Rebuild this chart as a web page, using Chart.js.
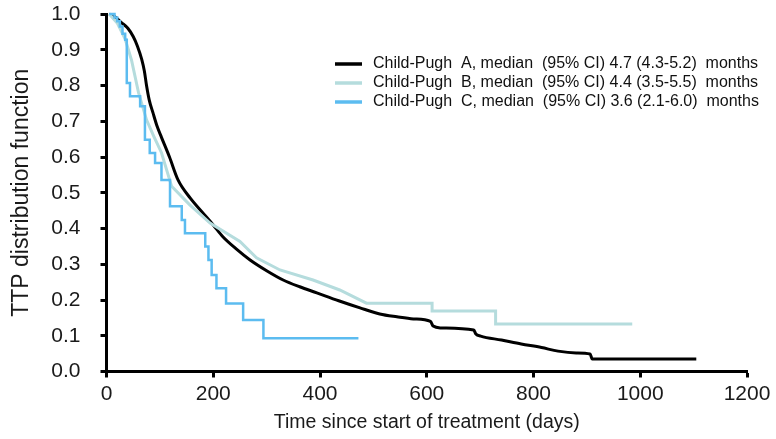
<!DOCTYPE html>
<html>
<head>
<meta charset="utf-8">
<script src="https://cdn.jsdelivr.net/npm/chart.js@4.4.1/dist/chart.umd.min.js"></script>
<style>
  html, body { margin: 0; padding: 0; background: #fff; }
  #wrap { width: 776px; height: 439px; }
</style>
</head>
<body>
<div id="wrap"><canvas id="ttp" width="776" height="439"></canvas></div>
<script>
// tick values
const xTicks = [0, 200, 400, 600, 800, 1000, 1200];
const yTicks = [0, 0.1, 0.2, 0.3, 0.4, 0.5, 0.6, 0.7, 0.8, 0.9, 1.0];

const seriesLabels = [
	'Child-Pugh  A, median  (95% CI) 4.7 (4.3-5.2)  months',
	'Child-Pugh  B, median  (95% CI) 4.4 (3.5-5.5)  months',
	'Child-Pugh  C, median  (95% CI) 3.6 (2.1-6.0)  months',
];
const seriesColors = ['#000000', '#b5dcdd', '#5cbcf0'];

// Child-Pugh A (days, TTP)
const aDays = [5, 15, 28, 40, 50, 58, 66, 71, 75, 80, 87, 95, 103, 118, 134, 157, 181, 200, 218, 243, 269, 300, 331, 362, 394, 435, 475, 512, 544, 575, 607, 612, 626, 688, 692, 701, 740, 777, 815, 846, 880, 906, 910, 1105];
const aTTP = [1.0, 0.993, 0.976, 0.96, 0.937, 0.91, 0.873, 0.84, 0.80, 0.76, 0.724, 0.685, 0.655, 0.6, 0.536, 0.485, 0.443, 0.41, 0.377, 0.343, 0.312, 0.282, 0.256, 0.237, 0.22, 0.198, 0.178, 0.161, 0.153, 0.147, 0.140, 0.127, 0.122, 0.116, 0.105, 0.099, 0.088, 0.077, 0.067, 0.057, 0.052, 0.049, 0.035, 0.035];

// Child-Pugh B
const bDays = [5, 20, 35, 47, 60, 75, 88, 103, 122, 156, 194, 250, 281, 325, 387, 437, 487, 610, 610, 729, 729, 985];
const bTTP = [1.0, 0.975, 0.93, 0.87, 0.78, 0.704, 0.66, 0.612, 0.518, 0.466, 0.415, 0.364, 0.318, 0.284, 0.256, 0.228, 0.191, 0.191, 0.169, 0.169, 0.133, 0.133];

// Child-Pugh C (stepped)
const cDays = [5, 15, 20, 25, 30, 35, 38, 44, 63, 72, 81, 91, 103, 119, 141, 147, 185, 191, 197, 206, 224, 256, 294, 472];
const cTTP = [1.0, 0.99, 0.98, 0.965, 0.945, 0.928, 0.807, 0.77, 0.742, 0.648, 0.611, 0.583, 0.536, 0.462, 0.424, 0.387, 0.35, 0.312, 0.27, 0.233, 0.19, 0.144, 0.093, 0.093];

function toPoints(days, vals) {
	return days.map((d, i) => ({ x: d, y: vals[i] }));
}

const FONT = '"Liberation Sans", Arial, sans-serif';

const legendPlugin = {
	id: 'cornerLegend',
	afterDraw(chart) {
		const ctx = chart.ctx;
		ctx.save();
		ctx.font = '16px ' + FONT;
		ctx.textBaseline = 'middle';
		ctx.fillStyle = '#111';
		seriesLabels.forEach((label, i) => {
			const y = 64 + i * 19;
			ctx.strokeStyle = seriesColors[i];
			ctx.lineWidth = 3.5;
			ctx.beginPath();
			ctx.moveTo(335, y);
			ctx.lineTo(362, y);
			ctx.stroke();
			ctx.fillText(label, 373, y);
		});
		ctx.restore();
	},
};

const axisCommon = {
	border: { display: true, color: '#000', width: 3 },
	grid: {
		drawOnChartArea: false,
		drawTicks: true,
		tickLength: 6,
		tickWidth: 3,
		tickColor: '#000',
	},
};

const chart = new Chart(document.getElementById('ttp').getContext('2d'), {
	type: 'line',
	data: {
		datasets: [
			{
				label: seriesLabels[0],
				data: toPoints(aDays, aTTP),
				borderColor: seriesColors[0],
				borderWidth: 3,
				pointRadius: 0,
				cubicInterpolationMode: 'monotone',
				clip: false,
				order: 2,
			},
			{
				label: seriesLabels[1],
				data: toPoints(bDays, bTTP),
				borderColor: seriesColors[1],
				borderWidth: 3,
				pointRadius: 0,
				tension: 0,
				clip: false,
				order: 1,
			},
			{
				label: seriesLabels[2],
				data: toPoints(cDays, cTTP),
				borderColor: seriesColors[2],
				borderWidth: 2.5,
				pointRadius: 0,
				stepped: true,
				clip: false,
				order: 0,
			},
		],
	},
	options: {
		responsive: false,
		animation: false,
		layout: { padding: { left: 0, top: 14, right: 29, bottom: 0 } },
		scales: {
			x: {
				...axisCommon,
				type: 'linear',
				min: 0,
				max: 1200,
				afterBuildTicks: s => { s.ticks = xTicks.map(v => ({ value: v })); },
				afterFit: s => { s.height = 67.5; s.paddingLeft = 0; s.paddingRight = 0; },
				ticks: {
					color: '#1a1a1a',
					font: { family: FONT, size: 21 },
					padding: 4,
					maxRotation: 0,
					callback: v => String(v),
				},
				title: {
					display: true,
					text: 'Time since start of treatment (days)',
					color: '#1a1a1a',
					font: { family: FONT, size: 19.5 },
					padding: { top: 0, bottom: 5 },
				},
			},
			y: {
				...axisCommon,
				type: 'linear',
				min: 0,
				max: 1,
				afterBuildTicks: s => { s.ticks = yTicks.map(v => ({ value: v })); },
				afterFit: s => { s.width = 106.5; s.paddingTop = 0; s.paddingBottom = 0; },
				ticks: {
					color: '#1a1a1a',
					font: { family: FONT, size: 21 },
					padding: 20,
					callback: v => v.toFixed(1),
				},
				title: {
					display: true,
					text: 'TTP distribution function',
					color: '#1a1a1a',
					font: { family: FONT, size: 23 },
					padding: { top: 8, bottom: 0 },
				},
			},
		},
		plugins: {
			legend: { display: false },
			tooltip: { enabled: false },
		},
	},
	plugins: [legendPlugin],
});
</script>
</body>
</html>
